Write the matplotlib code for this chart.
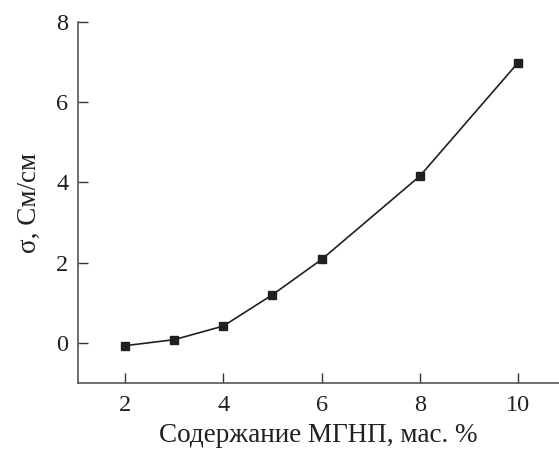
import matplotlib
matplotlib.use("Agg")
import matplotlib.pyplot as plt

x_vals = [2, 3, 4, 5, 6, 8, 10]
sigma = [-0.07, 0.08, 0.42, 1.2, 2.08, 4.16, 6.99]
x_ticks = [2, 4, 6, 8, 10]
y_ticks = [0, 2, 4, 6, 8]

plt.rcParams['font.family'] = ['Liberation Serif', 'DejaVu Serif']
col = '#231f20'

fig = plt.figure(figsize=(5.59, 4.49), dpi=100)
ax = fig.add_axes([0.1395, 0.147, 0.8605, 0.804])
ax.plot(x_vals, sigma, color=col, lw=1.2, marker='s', ms=5.5, mfc=col, mec=col)
ax.set_xlim(1.043, 10.83)
ax.set_ylim(-1.0, 8.0)
ax.set_xticks(x_ticks)
ax.set_yticks(y_ticks)
for s in ['top', 'right']:
    ax.spines[s].set_visible(False)
for s in ['left', 'bottom']:
    ax.spines[s].set_color('#555555')
    ax.spines[s].set_linewidth(1.2)
ax.tick_params(direction='in', length=7, width=1.0, color='#333333',
               labelsize=17.5, labelcolor=col)
ax.tick_params(axis='x', pad=9)
ax.tick_params(axis='y', pad=7)
ax.set_xlabel('Содержание МГНП, мас. %', fontsize=19.5, color=col, labelpad=5)
ax.set_ylabel('σ, См/см', fontsize=19.5, color=col, labelpad=10)
fig.savefig('out.png', dpi=100)
